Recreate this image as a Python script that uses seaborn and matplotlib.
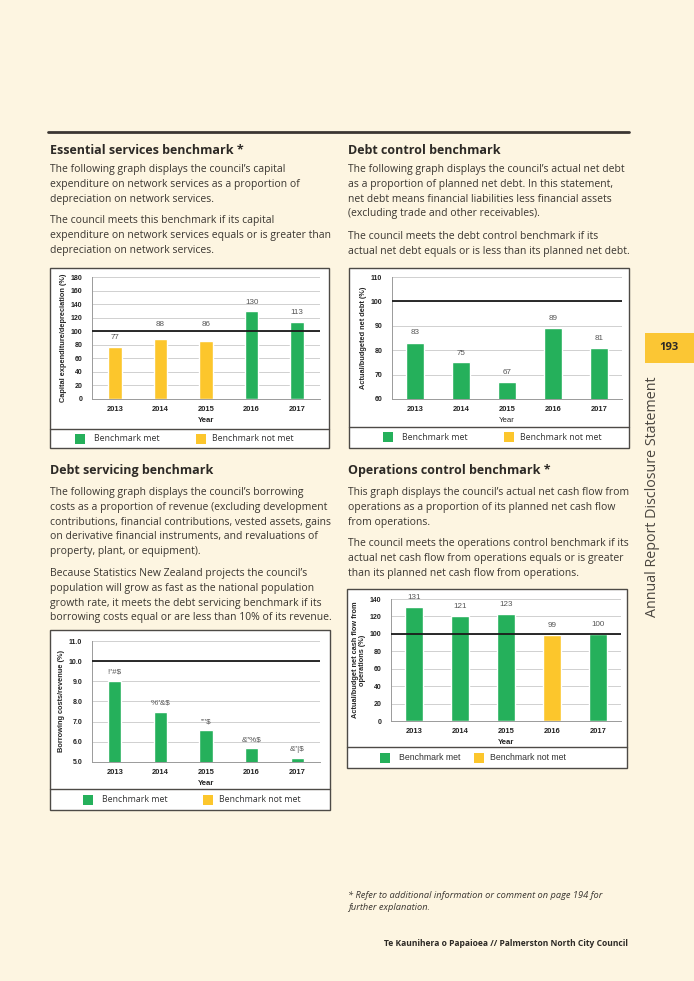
import matplotlib
matplotlib.use("Agg")
import matplotlib.pyplot as plt
import seaborn as sns
import pandas as pd
from matplotlib.patches import Rectangle
from matplotlib.lines import Line2D

# chart data
years = ["2013", "2014", "2015", "2016", "2017"]

essential_vals = [77, 88, 86, 130, 113]
essential_met = [False, False, False, True, True]

debt_control_vals = [83, 75, 67, 89, 81]
debt_control_met = [True, True, True, True, True]

debt_servicing_vals = [9.0, 7.5, 6.6, 5.7, 5.2]
debt_servicing_met = [True, True, True, True, True]
debt_servicing_labels = ["!\"#$", "%\"&$", "'\"'$", "&\"%$", "&\"|$"]

operations_vals = [131, 121, 123, 99, 100]
operations_met = [True, True, True, False, True]

W, H = 694, 981
PAGE = "#fdf5e1"
GREEN = "#25b05b"
YELLOW = "#fcc62c"
DARK = "#3b3632"
colors = {"met": GREEN, "not met": YELLOW}

sns.set_style("white")
plt.rcParams["font.family"] = ["Open Sans", "DejaVu Sans"]

fig = plt.figure(figsize=(W / 100, H / 100), dpi=100)
fig.patch.set_facecolor(PAGE)


def fx(x):
    return x / W


def fy(y):
    return 1 - y / H


def txt(x, y, s, **kw):
    return fig.text(fx(x), fy(y), s, **kw)


# top rule
fig.add_artist(Line2D([fx(48), fx(629)], [fy(132), fy(132)], color=DARK, lw=2))

# page tab + side text
fig.patches.append(Rectangle((fx(645), fy(363)), fx(49), 30 / H, transform=fig.transFigure,
                             facecolor="#fbc634", edgecolor="none"))
txt(669, 348, "193", fontsize=8, fontweight="bold", ha="center", va="center", color="#2d2a26")
txt(652, 497, "Annual Report Disclosure Statement", fontsize=10.3, rotation=90,
    ha="center", va="center", color="#4a4640")

# text blocks (y = centre of first line)
body = dict(fontsize=7.45, color="#3a3631", va="top", linespacing=1.47)
head = dict(fontsize=9, fontweight="bold", color="#2d2a26", va="baseline")


def para(x, y, s):
    txt(x, y - 5, s, **body)


txt(50, 154, "Essential services benchmark *", **head)
para(50, 169, "The following graph displays the council\u2019s capital\n"
              "expenditure on network services as a proportion of\n"
              "depreciation on network services.")
para(50, 220, "The council meets this benchmark if its capital\n"
              "expenditure on network services equals or is greater than\n"
              "depreciation on network services.")

txt(348, 154, "Debt control benchmark", **head)
para(348, 169, "The following graph displays the council\u2019s actual net debt\n"
               "as a proportion of planned net debt. In this statement,\n"
               "net debt means financial liabilities less financial assets\n"
               "(excluding trade and other receivables).")
para(348, 236, "The council meets the debt control benchmark if its\n"
               "actual net debt equals or is less than its planned net debt.")

txt(50, 474, "Debt servicing benchmark", **head)
para(50, 492, "The following graph displays the council\u2019s borrowing\n"
              "costs as a proportion of revenue (excluding development\n"
              "contributions, financial contributions, vested assets, gains\n"
              "on derivative financial instruments, and revaluations of\n"
              "property, plant, or equipment).")
para(50, 573, "Because Statistics New Zealand projects the council\u2019s\n"
              "population will grow as fast as the national population\n"
              "growth rate, it meets the debt servicing benchmark if its\n"
              "borrowing costs equal or are less than 10% of its revenue.")

txt(348, 474, "Operations control benchmark *", **head)
para(348, 492, "This graph displays the council\u2019s actual net cash flow from\n"
               "operations as a proportion of its planned net cash flow\n"
               "from operations.")
para(348, 543, "The council meets the operations control benchmark if its\n"
               "actual net cash flow from operations equals or is greater\n"
               "than its planned net cash flow from operations.")

txt(348, 891, "* Refer to additional information or comment on page 194 for\n"
              "further explanation.", fontsize=6.7, style="italic", color="#3a3631",
    va="top", linespacing=1.45)
fig.text(fx(628), fy(946), "Te Kaunihera o Papaioea // Palmerston North City Council",
         fontsize=6.1, fontweight="bold", color="#2d2a26", ha="right", va="baseline")


def chart(box, axbox, divider, vals, met, ylim, yticks, yfmt, bench, ylabel, labels,
          width, legend_x, label_px, legend_font="Open Sans", year_bold=True):
    l, t, r, b = box
    fig.patches.append(Rectangle((fx(l), fy(b)), fx(r - l), (b - t) / H,
                                 transform=fig.transFigure, facecolor="white",
                                 edgecolor="#4d4a46", lw=1.0, zorder=0))
    fig.add_artist(Line2D([fx(l), fx(r)], [fy(divider), fy(divider)], color="#4d4a46", lw=1.0))

    al, at, ar, ab = axbox
    ax = fig.add_axes([fx(al), fy(ab), fx(ar - al), (ab - at) / H])
    ax.set_zorder(3)
    df = pd.DataFrame({"year": years, "value": vals,
                       "status": ["met" if m else "not met" for m in met]})
    sns.barplot(data=df, x="year", y="value", hue="status", palette=colors,
                dodge=False, width=width, legend=False, ax=ax, saturation=1)
    ax.set_facecolor("none")
    ax.set_ylim(*ylim)
    ax.set_xlim(-0.5, 4.5)
    ax.set_yticks(yticks)
    ax.set_yticklabels([yfmt.format(v) for v in yticks])
    ax.yaxis.grid(True, color="#c9c9c9", lw=0.6)
    ax.set_axisbelow(True)
    ax.axhline(bench, color="#1a1a1a", lw=1.3, zorder=5)
    for s in ["top", "right"]:
        ax.spines[s].set_visible(False)
    for s in ["left", "bottom"]:
        ax.spines[s].set_color("#9a9a9a")
        ax.spines[s].set_linewidth(0.7)
    ax.tick_params(axis="y", length=3, width=0.6, color="#9a9a9a", pad=4,
                   labelsize=5, labelcolor="#222222")
    ax.tick_params(axis="x", length=0, pad=5, labelsize=5.4, labelcolor="#222222")
    ax.set_xticks([-0.5, 0.5, 1.5, 2.5, 3.5, 4.5], minor=True)
    ax.tick_params(axis="x", which="minor", length=3, width=0.6, color="#9a9a9a")
    for lab in ax.get_xticklabels() + ax.get_yticklabels():
        lab.set_fontfamily(["Liberation Sans", "DejaVu Sans"])
        lab.set_fontweight("bold")
    ax.set_xlabel("Year", fontsize=5.6, fontweight="bold" if year_bold else "normal",
                  family=["Liberation Sans"], labelpad=3)
    ax.set_ylabel(ylabel, fontsize=5.3, fontweight="bold", family=["Liberation Sans"],
                  labelpad=2.5, linespacing=1.1)
    for i, (v, s, off) in enumerate(zip(vals, labels, label_px)):
        ax.annotate(s, (i, v), xytext=(0, off * 0.72), textcoords="offset points",
                    ha="center", va="center", fontsize=5.8, color="#555555",
                    family=["Liberation Sans"], annotation_clip=False)

    ly = (divider + b) / 2
    gx, yx = legend_x
    fig.patches.append(Rectangle((fx(gx), fy(ly + 5)), fx(10), 10 / H, transform=fig.transFigure,
                                 facecolor=GREEN, edgecolor="none"))
    fig.patches.append(Rectangle((fx(yx), fy(ly + 5)), fx(10), 10 / H, transform=fig.transFigure,
                                 facecolor=YELLOW, edgecolor="none"))
    txt(gx + 19, ly, "Benchmark met", fontsize=6.3, va="center", color="#333333",
        family=[legend_font, "DejaVu Sans"])
    txt(yx + 16, ly, "Benchmark not met", fontsize=6.3, va="center", color="#333333",
        family=[legend_font, "DejaVu Sans"])
    return ax


chart((50, 268, 329, 448), (92, 277, 320, 399), 429,
      essential_vals, essential_met, (0, 180), list(range(0, 181, 20)), "{:d}", 100,
      "Capital expenditure/depreciation (%)", [str(v) for v in essential_vals],
      0.3, (75, 196), [9, 15, 16, 8, 10])

chart((349, 268, 629, 448), (392, 277, 622, 399), 427,
      debt_control_vals, debt_control_met, (60, 110), list(range(60, 111, 10)), "{:d}", 100,
      "Actual/budgeted net debt (%)", [str(v) for v in debt_control_vals],
      0.4, (383, 504), [10, 9, 9, 10, 9], year_bold=False)

chart((50, 630, 330, 810), (92, 641, 320, 762), 789,
      debt_servicing_vals, debt_servicing_met, (5, 11), [5, 6, 7, 8, 9, 10, 11], "{:.1f}", 10,
      "Borrowing costs/revenue (%)", debt_servicing_labels,
      0.29, (83, 203), [9, 9, 8, 8, 8])

chart((347, 589, 627, 768), (391, 599, 621, 721), 747,
      operations_vals, operations_met, (0, 140), list(range(0, 141, 20)), "{:d}", 100,
      "Actual/budget net cash flow from\noperations (%)", [str(v) for v in operations_vals],
      0.4, (380, 474), [9, 9, 9, 9, 9], legend_font="Liberation Sans")

fig.savefig("out.png", dpi=100, facecolor=PAGE)
